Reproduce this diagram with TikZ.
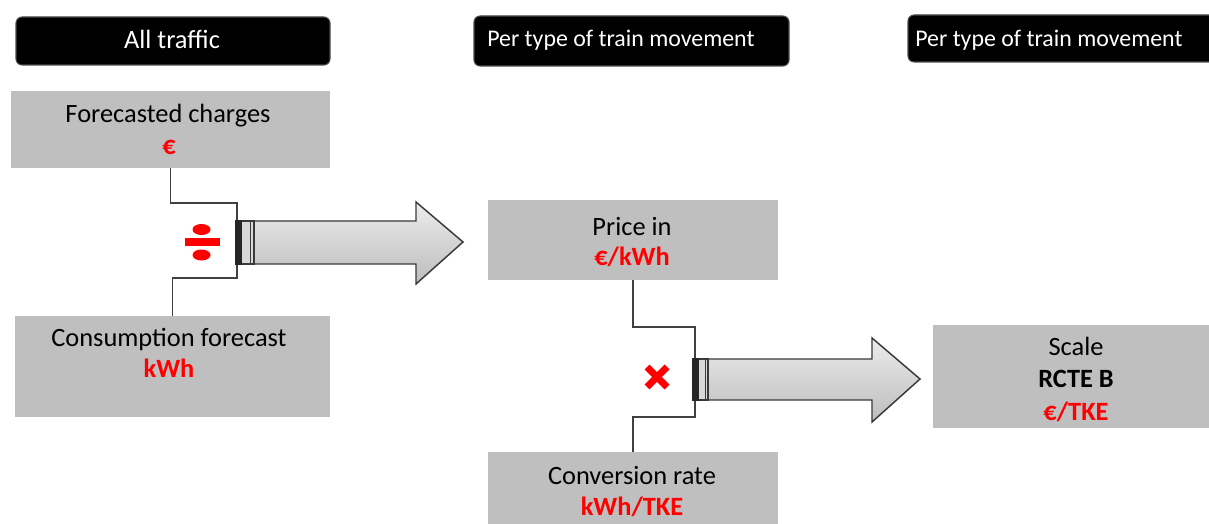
\documentclass[tikz,border=0pt]{standalone}
\usepackage{fontspec}
\setmainfont{Carlito}
\usetikzlibrary{calc}
\definecolor{boxgray}{HTML}{BFBFBF}
\definecolor{wiregray}{HTML}{404040}
\definecolor{arrowline}{HTML}{3A3A3A}
\definecolor{ared}{HTML}{FF0000}
\begin{document}
\begin{tikzpicture}[x=0.75pt,y=-0.75pt,
  hdr/.style={draw=gray!60!black, fill=black, rounded corners=4.5pt, line width=0.8pt, inner sep=0pt},
  gbox/.style={fill=boxgray, draw=none, inner sep=0pt},
  txt/.style={font=\fontsize{19.8}{22}\selectfont, inner sep=0pt, anchor=base},
  htxt/.style={txt, text=white},
  unit/.style={txt, font=\fontsize{19.8}{22}\selectfont\bfseries, text=ared},
  wire/.style={draw=wiregray, line width=1.1pt},
  shaft/.style={draw=arrowline, line width=1.1pt, top color=gray!15, bottom color=gray!52, line join=miter},
  band/.style={draw=arrowline, line width=0.9pt, fill=gray!30, inner sep=0pt, minimum width=13.5pt}
]
\clip (0,0) rectangle (1209,524);
\fill[white] (0,0) rectangle (1209,524);

% headers
\node[hdr, minimum width=235.5pt, minimum height=36pt] (h1) at (173,41) {};
\node[hdr, minimum width=236.25pt, minimum height=37.5pt] (h2) at (631.5,41) {};
\node[hdr, minimum width=234pt, minimum height=35.25pt] (h3) at (1064,38.5) {};
\node[htxt] (h1t) at (172,49) {All traffic};
\node[htxt, anchor=base west, font=\fontsize{17.9}{20}\selectfont] (h2t) at (487,47) {Per type of train movement};
\node[htxt, anchor=base west, font=\fontsize{17.9}{20}\selectfont] (h3t) at (915,47) {Per type of train movement};

% grey boxes
\node[gbox, minimum width=239.25pt, minimum height=57.75pt] (fc) at (170.5,129.5) {};
\node[gbox, minimum width=236.25pt, minimum height=75.75pt] (cf) at (172.5,366.5) {};
\node[gbox, minimum width=217.5pt, minimum height=60pt] (pr) at (633,240) {};
\node[gbox, minimum width=217.5pt, minimum height=58.5pt] (cr) at (633,491) {};
\node[gbox, minimum width=209.25pt, minimum height=77.25pt] (sc) at (1072.5,376.5) {};

% texts
\node[txt] (fct) at (168,123) {Forecasted charges};
\node[unit] (fcu) at (169,155) {€};
\node[txt] (cft) at (169,346) {Consumption forecast};
\node[unit] (cfu) at (169,377) {kWh};
\node[txt] (prt) at (632,235) {Price in};
\node[unit] (pru) at (632,265) {€/kWh};
\node[txt] (crt) at (632,484) {Conversion rate};
\node[unit] (cru) at (632,515) {kWh/TKE};
\node[txt] (sct) at (1076,355) {Scale};
\node[txt, font=\fontsize{19.8}{22}\selectfont\bfseries] (scb) at (1076,387) {RCTE B};
\node[unit] (scu) at (1076,420) {€/TKE};

% bracket 1 (division)
\coordinate (k1a) at (237,203);
\coordinate (k1b) at (237,278);
\coordinate (k1c) at (172.5,278);
\draw[wire] (fc.south) |- (k1a) -- (k1b) -- (k1c) -- (cf.north);
\fill[ared] (185,238) rectangle (220,245.5);
\fill[ared] (201.5,229.5) ellipse [x radius=9, y radius=5.5];
\fill[ared] (201.5,255) ellipse [x radius=9, y radius=5.5];

% arrow 1
\path[shaft] (254,221) -- (416,221) -- (416,202) -- (463,242) -- (416,284) -- (416,264) -- (254,264) -- cycle;
\node[band, minimum height=32.25pt] (b1) at (245,242.5) {};
\fill[black!85] (b1.north west) rectangle ($(b1.south west)+(7,0)$);
\draw[arrowline, line width=0.9pt] ($(b1.north east)+(-4,0)$) -- ($(b1.south east)+(-4,0)$);

% bracket 2 (multiplication)
\coordinate (k2a) at (695,327);
\coordinate (k2b) at (695,417);
\coordinate (k2c) at (633,417);
\draw[wire] (pr.south) |- (k2a) -- (k2b) -- (k2c) -- (cr.north);
\draw[ared, line width=5.2pt] (647,367) -- (667,387) (647,387) -- (667,367);

% arrow 2
\path[shaft] (708,359) -- (872,359) -- (872,338) -- (920,379) -- (872,422) -- (872,400) -- (708,400) -- cycle;
\node[band, minimum height=30.75pt, minimum width=11.25pt] (b2) at (700.5,379.5) {};
\fill[black!85] (b2.north west) rectangle ($(b2.south west)+(7,0)$);
\draw[arrowline, line width=0.9pt] ($(b2.north east)+(-3,0)$) -- ($(b2.south east)+(-3,0)$);
\end{tikzpicture}
\end{document}
